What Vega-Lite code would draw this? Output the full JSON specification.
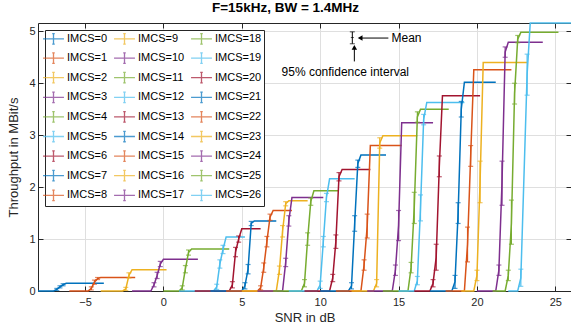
{
  "$schema": "https://vega.github.io/schema/vega-lite/v6.json",
  "width": 533,
  "height": 268,
  "autosize": {"type": "none"},
  "padding": {"left": 38, "top": 23, "right": 0, "bottom": 37},
  "background": "white",
  "title": {"text": "F=15kHz, BW = 1.4MHz", "anchor": "middle", "dx": -19, "dy": 12, "fontSize": 13.5, "fontWeight": "bold", "font": "Liberation Sans", "color": "#000000", "offset": 7, "baseline": "alphabetic"},
  "config": {
    "view": {"stroke": null},
    "font": "Liberation Sans",
    "axis": {"domainColor": "#262626", "domainWidth": 1, "tickColor": "#262626", "tickWidth": 1, "tickSize": -5, "labelColor": "#262626", "labelFont": "Liberation Sans", "labelFontSize": 11, "titleFont": "Liberation Sans", "titleFontSize": 13, "titleFontWeight": "normal", "titleColor": "#262626", "gridColor": "#dfdfdf", "gridWidth": 1},
    "legend": {"orient": "top-left", "offset": 7, "columns": 3, "columnPadding": 3, "rowPadding": 2.6, "padding": 2, "strokeColor": "#262626", "fillColor": "white", "symbolType": "M-1.9,0H1.9M0,-0.95V0.95M-0.23,-0.95H0.23M-0.23,0.95H0.23", "symbolSize": 121, "symbolStrokeWidth": 1.3, "symbolFillColor": "transparent", "labelFont": "Liberation Sans", "labelFontSize": 11, "labelColor": "#000000", "labelOffset": 7, "title": null}
  },
  "datasets": {
    "curves": [
      {"m":"IMCS=0","s":-8,"t":0},{"m":"IMCS=0","s":-7,"t":0},{"m":"IMCS=0","s":-6.8,"t":0.03,"lo":0.01,"hi":0.05},{"m":"IMCS=0","s":-6.6,"t":0.08,"lo":0.06,"hi":0.1},{"m":"IMCS=0","s":-6.4,"t":0.12,"lo":0.1,"hi":0.14},{"m":"IMCS=0","s":-6.2,"t":0.15},{"m":"IMCS=0","s":-3.8,"t":0.15},
      {"m":"IMCS=1","s":-6,"t":0},{"m":"IMCS=1","s":-4.8,"t":0},{"m":"IMCS=1","s":-4.6,"t":0.05,"lo":0.02,"hi":0.08},{"m":"IMCS=1","s":-4.4,"t":0.17,"lo":0.13,"hi":0.21},{"m":"IMCS=1","s":-4.2,"t":0.24,"lo":0.22,"hi":0.26},{"m":"IMCS=1","s":-4,"t":0.26},{"m":"IMCS=1","s":-1.8,"t":0.26},
      {"m":"IMCS=2","s":-4,"t":0},{"m":"IMCS=2","s":-2.6,"t":0},{"m":"IMCS=2","s":-2.4,"t":0.04,"lo":0.01,"hi":0.07},{"m":"IMCS=2","s":-2.2,"t":0.3,"lo":0.25,"hi":0.35},{"m":"IMCS=2","s":-2,"t":0.41},{"m":"IMCS=2","s":0.2,"t":0.41},
      {"m":"IMCS=3","s":-2,"t":0},{"m":"IMCS=3","s":-0.8,"t":0},{"m":"IMCS=3","s":-0.6,"t":0.12,"lo":0.08,"hi":0.16},{"m":"IMCS=3","s":-0.4,"t":0.3,"lo":0.24,"hi":0.36},{"m":"IMCS=3","s":-0.2,"t":0.52,"lo":0.47,"hi":0.57},{"m":"IMCS=3","s":0,"t":0.61},{"m":"IMCS=3","s":2.2,"t":0.61},
      {"m":"IMCS=4","s":0,"t":0},{"m":"IMCS=4","s":1,"t":0},{"m":"IMCS=4","s":1.2,"t":0.06,"lo":0.02,"hi":0.1},{"m":"IMCS=4","s":1.4,"t":0.42,"lo":0.35,"hi":0.49},{"m":"IMCS=4","s":1.6,"t":0.74,"lo":0.69,"hi":0.79},{"m":"IMCS=4","s":1.8,"t":0.81},{"m":"IMCS=4","s":4.2,"t":0.81},
      {"m":"IMCS=5","s":1,"t":0},{"m":"IMCS=5","s":3.2,"t":0},{"m":"IMCS=5","s":3.4,"t":0.08,"lo":0.03,"hi":0.13},{"m":"IMCS=5","s":3.6,"t":0.52,"lo":0.44,"hi":0.6},{"m":"IMCS=5","s":3.8,"t":0.8,"lo":0.72,"hi":0.88},{"m":"IMCS=5","s":4,"t":1.04},{"m":"IMCS=5","s":5.2,"t":1.04},
      {"m":"IMCS=6","s":2,"t":0},{"m":"IMCS=6","s":4.2,"t":0},{"m":"IMCS=6","s":4.4,"t":0.12,"lo":0.06,"hi":0.18},{"m":"IMCS=6","s":4.6,"t":0.75,"lo":0.66,"hi":0.84},{"m":"IMCS=6","s":4.8,"t":1.0,"lo":0.94,"hi":1.06},{"m":"IMCS=6","s":5,"t":1.2},{"m":"IMCS=6","s":6.2,"t":1.2},
      {"m":"IMCS=7","s":3,"t":0},{"m":"IMCS=7","s":5,"t":0},{"m":"IMCS=7","s":5.2,"t":0.1,"lo":0.04,"hi":0.16},{"m":"IMCS=7","s":5.4,"t":0.42,"lo":0.33,"hi":0.51},{"m":"IMCS=7","s":5.6,"t":1.3,"lo":1.26,"hi":1.34},{"m":"IMCS=7","s":5.8,"t":1.35},{"m":"IMCS=7","s":7.2,"t":1.35},
      {"m":"IMCS=8","s":4,"t":0},{"m":"IMCS=8","s":6,"t":0},{"m":"IMCS=8","s":6.2,"t":0.06,"lo":0.02,"hi":0.1},{"m":"IMCS=8","s":6.4,"t":0.45,"lo":0.36,"hi":0.54},{"m":"IMCS=8","s":6.6,"t":0.95,"lo":0.85,"hi":1.05},{"m":"IMCS=8","s":6.8,"t":1.42,"lo":1.36,"hi":1.48},{"m":"IMCS=8","s":7,"t":1.55},{"m":"IMCS=8","s":8.2,"t":1.55},
      {"m":"IMCS=9","s":5,"t":0},{"m":"IMCS=9","s":7.2,"t":0},{"m":"IMCS=9","s":7.4,"t":0.4,"lo":0.32,"hi":0.48},{"m":"IMCS=9","s":7.6,"t":1.15,"lo":1.04,"hi":1.26},{"m":"IMCS=9","s":7.8,"t":1.68,"lo":1.64,"hi":1.72},{"m":"IMCS=9","s":8,"t":1.74},{"m":"IMCS=9","s":9.2,"t":1.74},
      {"m":"IMCS=10","s":6,"t":0},{"m":"IMCS=10","s":7.6,"t":0},{"m":"IMCS=10","s":7.8,"t":0.55,"lo":0.47,"hi":0.63},{"m":"IMCS=10","s":8,"t":1.35,"lo":1.25,"hi":1.45},{"m":"IMCS=10","s":8.2,"t":1.8},{"m":"IMCS=10","s":10.2,"t":1.8},
      {"m":"IMCS=11","s":7,"t":0},{"m":"IMCS=11","s":8.8,"t":0},{"m":"IMCS=11","s":9,"t":0.15,"lo":0.08,"hi":0.22},{"m":"IMCS=11","s":9.2,"t":1.0,"lo":0.88,"hi":1.12},{"m":"IMCS=11","s":9.4,"t":1.72,"lo":1.65,"hi":1.79},{"m":"IMCS=11","s":9.6,"t":1.93},{"m":"IMCS=11","s":11.2,"t":1.93},
      {"m":"IMCS=12","s":8,"t":0},{"m":"IMCS=12","s":9.8,"t":0},{"m":"IMCS=12","s":10,"t":0.12,"lo":0.05,"hi":0.19},{"m":"IMCS=12","s":10.2,"t":0.95,"lo":0.85,"hi":1.05},{"m":"IMCS=12","s":10.4,"t":1.8,"lo":1.72,"hi":1.88},{"m":"IMCS=12","s":10.6,"t":2.16},{"m":"IMCS=12","s":12.2,"t":2.16},
      {"m":"IMCS=13","s":9,"t":0},{"m":"IMCS=13","s":10.6,"t":0},{"m":"IMCS=13","s":10.8,"t":0.25,"lo":0.18,"hi":0.32},{"m":"IMCS=13","s":11,"t":0.95,"lo":0.82,"hi":1.08},{"m":"IMCS=13","s":11.2,"t":2.2,"lo":2.12,"hi":2.28},{"m":"IMCS=13","s":11.4,"t":2.34},{"m":"IMCS=13","s":13.2,"t":2.34},
      {"m":"IMCS=14","s":10,"t":0},{"m":"IMCS=14","s":11.8,"t":0},{"m":"IMCS=14","s":12,"t":0.1,"lo":0.04,"hi":0.16},{"m":"IMCS=14","s":12.2,"t":1.3,"lo":1.15,"hi":1.45},{"m":"IMCS=14","s":12.4,"t":2.45,"lo":2.38,"hi":2.52},{"m":"IMCS=14","s":12.6,"t":2.62},{"m":"IMCS=14","s":14.2,"t":2.62},
      {"m":"IMCS=15","s":11,"t":0},{"m":"IMCS=15","s":12.6,"t":0},{"m":"IMCS=15","s":12.8,"t":0.5,"lo":0.4,"hi":0.6},{"m":"IMCS=15","s":13,"t":1.25,"lo":1.02,"hi":1.48},{"m":"IMCS=15","s":13.2,"t":2.8},{"m":"IMCS=15","s":15.2,"t":2.8},
      {"m":"IMCS=16","s":12,"t":0},{"m":"IMCS=16","s":13.4,"t":0},{"m":"IMCS=16","s":13.6,"t":0.15,"lo":0.08,"hi":0.22},{"m":"IMCS=16","s":13.8,"t":2.85,"lo":2.75,"hi":2.95},{"m":"IMCS=16","s":14,"t":2.99},{"m":"IMCS=16","s":16.2,"t":2.99},
      {"m":"IMCS=17","s":13,"t":0},{"m":"IMCS=17","s":14.6,"t":0},{"m":"IMCS=17","s":14.8,"t":0.4,"lo":0.3,"hi":0.5},{"m":"IMCS=17","s":15,"t":1.26,"lo":0.97,"hi":1.55},{"m":"IMCS=17","s":15.2,"t":3.24},{"m":"IMCS=17","s":17.2,"t":3.24},
      {"m":"IMCS=18","s":14,"t":0},{"m":"IMCS=18","s":15.6,"t":0},{"m":"IMCS=18","s":15.8,"t":0.45,"lo":0.35,"hi":0.55},{"m":"IMCS=18","s":16,"t":1.6,"lo":1.3,"hi":1.9},{"m":"IMCS=18","s":16.2,"t":3.35,"lo":3.25,"hi":3.45},{"m":"IMCS=18","s":16.4,"t":3.5},{"m":"IMCS=18","s":18.2,"t":3.5},
      {"m":"IMCS=19","s":15,"t":0},{"m":"IMCS=19","s":16,"t":0},{"m":"IMCS=19","s":16.2,"t":0.2,"lo":0.12,"hi":0.28},{"m":"IMCS=19","s":16.4,"t":1.6,"lo":1.35,"hi":1.85},{"m":"IMCS=19","s":16.6,"t":3.3,"lo":3.2,"hi":3.4},{"m":"IMCS=19","s":16.8,"t":3.63},{"m":"IMCS=19","s":19.2,"t":3.63},
      {"m":"IMCS=20","s":16,"t":0},{"m":"IMCS=20","s":17,"t":0},{"m":"IMCS=20","s":17.2,"t":0.15,"lo":0.08,"hi":0.22},{"m":"IMCS=20","s":17.4,"t":0.65,"lo":0.4,"hi":0.9},{"m":"IMCS=20","s":17.6,"t":2.4,"lo":2.2,"hi":2.6},{"m":"IMCS=20","s":17.8,"t":3.76},{"m":"IMCS=20","s":20.2,"t":3.76},
      {"m":"IMCS=21","s":17,"t":0},{"m":"IMCS=21","s":18.4,"t":0},{"m":"IMCS=21","s":18.6,"t":0.18,"lo":0.05,"hi":0.3},{"m":"IMCS=21","s":18.8,"t":1.5,"lo":1.3,"hi":1.7},{"m":"IMCS=21","s":19,"t":3.5,"lo":3.35,"hi":3.65},{"m":"IMCS=21","s":19.2,"t":4.02},{"m":"IMCS=21","s":21.2,"t":4.02},
      {"m":"IMCS=22","s":18,"t":0},{"m":"IMCS=22","s":19.2,"t":0},{"m":"IMCS=22","s":19.4,"t":0.9,"lo":0.56,"hi":1.23},{"m":"IMCS=22","s":19.6,"t":2.6,"lo":2.4,"hi":2.8},{"m":"IMCS=22","s":19.8,"t":4.26},{"m":"IMCS=22","s":22.2,"t":4.26},
      {"m":"IMCS=23","s":19,"t":0},{"m":"IMCS=23","s":19.8,"t":0},{"m":"IMCS=23","s":20,"t":0.3,"lo":0.2,"hi":0.4},{"m":"IMCS=23","s":20.2,"t":2.1,"lo":1.7,"hi":2.5},{"m":"IMCS=23","s":20.4,"t":4.4},{"m":"IMCS=23","s":23.2,"t":4.4},
      {"m":"IMCS=24","s":20,"t":0},{"m":"IMCS=24","s":21.2,"t":0},{"m":"IMCS=24","s":21.4,"t":0.4,"lo":0.3,"hi":0.5},{"m":"IMCS=24","s":21.6,"t":2.1,"lo":1.65,"hi":2.5},{"m":"IMCS=24","s":21.8,"t":4.6,"lo":4.5,"hi":4.7},{"m":"IMCS=24","s":22,"t":4.79},{"m":"IMCS=24","s":24.2,"t":4.79},
      {"m":"IMCS=25","s":21,"t":0},{"m":"IMCS=25","s":21.8,"t":0},{"m":"IMCS=25","s":22,"t":0.3,"lo":0.2,"hi":0.4},{"m":"IMCS=25","s":22.2,"t":1.3,"lo":0.9,"hi":1.75},{"m":"IMCS=25","s":22.4,"t":3.8,"lo":3.6,"hi":4.0},{"m":"IMCS=25","s":22.6,"t":4.85,"lo":4.78,"hi":4.92},{"m":"IMCS=25","s":22.8,"t":4.98},{"m":"IMCS=25","s":25.2,"t":4.98},
      {"m":"IMCS=26","s":22,"t":0},{"m":"IMCS=26","s":22.6,"t":0},{"m":"IMCS=26","s":22.8,"t":0.25,"lo":0.09,"hi":0.42},{"m":"IMCS=26","s":23.2,"t":4.17,"lo":3.77,"hi":4.56},{"m":"IMCS=26","s":23.4,"t":5.16},{"m":"IMCS=26","s":26,"t":5.16}
    ],
    "notes": [
      {"k":"mean","s":14.55,"t":4.87,"txt":"Mean"},
      {"k":"ci","s":11.6,"t":4.22,"txt":"95% confidence interval"}
    ],
    "arrows": [
      {"g":"a","s":12.55,"t":4.87},{"g":"a","s":14.35,"t":4.87},
      {"g":"b","s":12.18,"t":4.66},{"g":"b","s":12.18,"t":4.42}
    ],
    "heads": [
      {"d":"left","s":12.55,"t":4.87},
      {"d":"up","s":12.18,"t":4.69}
    ],
    "sample": [
      {"s":12.05,"t":4.88,"lo":4.76,"hi":4.99}
    ]
  },
  "layer": [
    {
      "data": {"name": "curves"},
      "mark": {"type": "line", "strokeWidth": 1.5, "clip": false},
      "encoding": {
        "x": {"field": "s", "type": "quantitative", "scale": {"domain": [-8, 26], "nice": false, "zero": false},
              "axis": {"orient": "bottom", "values": [-5, 0, 5, 10, 15, 20, 25], "title": "SNR in dB", "grid": true, "labelPadding": 10, "titlePadding": 4}},
        "y": {"field": "t", "type": "quantitative", "scale": {"domain": [0, 5.16], "nice": false, "zero": true},
              "axis": {"orient": "left", "values": [0, 1, 2, 3, 4, 5], "title": "Throughput in MBit/s", "grid": true, "labelPadding": 8, "titlePadding": 8}},
        "color": {"field": "m", "type": "nominal",
          "scale": {
            "domain": ["IMCS=0","IMCS=1","IMCS=2","IMCS=3","IMCS=4","IMCS=5","IMCS=6","IMCS=7","IMCS=8","IMCS=9","IMCS=10","IMCS=11","IMCS=12","IMCS=13","IMCS=14","IMCS=15","IMCS=16","IMCS=17","IMCS=18","IMCS=19","IMCS=20","IMCS=21","IMCS=22","IMCS=23","IMCS=24","IMCS=25","IMCS=26"],
            "range": ["#0072BD","#D95319","#EDB120","#7E2F8E","#77AC30","#4DBEEE","#A2142F","#0072BD","#D95319","#EDB120","#7E2F8E","#77AC30","#4DBEEE","#A2142F","#0072BD","#D95319","#EDB120","#7E2F8E","#77AC30","#4DBEEE","#A2142F","#0072BD","#D95319","#EDB120","#7E2F8E","#77AC30","#4DBEEE"]
          },
          "legend": {"title": null}
        }
      }
    },
    {
      "data": {"name": "curves"},
      "transform": [{"filter": "isValid(datum.lo)"}],
      "mark": {"type": "errorbar", "ticks": true, "size": 5, "thickness": 1.2},
      "encoding": {
        "x": {"field": "s", "type": "quantitative", "axis": {"orient": "top", "values": [-5, 0, 5, 10, 15, 20, 25], "labels": false, "title": null, "grid": false}},
        "y": {"field": "lo", "type": "quantitative", "axis": {"orient": "right", "values": [0, 1, 2, 3, 4, 5], "labels": false, "title": null, "grid": false}},
        "y2": {"field": "hi"},
        "color": {"field": "m", "type": "nominal"}
      }
    },
    {
      "data": {"name": "sample"},
      "mark": {"type": "errorbar", "ticks": true, "size": 5, "thickness": 1, "color": "#000000"},
      "encoding": {
        "x": {"field": "s", "type": "quantitative", "axis": null},
        "y": {"field": "lo", "type": "quantitative", "axis": null},
        "y2": {"field": "hi"}
      }
    },
    {
      "data": {"name": "sample"},
      "mark": {"type": "tick", "orient": "horizontal", "size": 3, "thickness": 1, "color": "#000000"},
      "encoding": {
        "x": {"field": "s", "type": "quantitative", "axis": null},
        "y": {"field": "t", "type": "quantitative", "axis": null}
      }
    },
    {
      "data": {"name": "arrows"},
      "mark": {"type": "line", "color": "#000000", "strokeWidth": 1},
      "encoding": {
        "x": {"field": "s", "type": "quantitative", "axis": null},
        "y": {"field": "t", "type": "quantitative", "axis": null},
        "detail": {"field": "g"}
      }
    },
    {
      "data": {"name": "heads"},
      "mark": {"type": "point", "filled": true, "color": "#000000", "size": 30, "opacity": 1},
      "encoding": {
        "x": {"field": "s", "type": "quantitative", "axis": null},
        "y": {"field": "t", "type": "quantitative", "axis": null},
        "shape": {"field": "d", "type": "nominal", "scale": {"domain": ["left", "up"], "range": ["triangle-left", "triangle-up"]}, "legend": null}
      }
    },
    {
      "data": {"name": "notes"},
      "transform": [{"filter": "datum.k == 'mean'"}],
      "mark": {"type": "text", "align": "left", "baseline": "middle", "fontSize": 12, "font": "Liberation Sans", "color": "#000000"},
      "encoding": {
        "x": {"field": "s", "type": "quantitative", "axis": null},
        "y": {"field": "t", "type": "quantitative", "axis": null},
        "text": {"field": "txt"}
      }
    },
    {
      "data": {"name": "notes"},
      "transform": [{"filter": "datum.k == 'ci'"}],
      "mark": {"type": "text", "align": "center", "baseline": "middle", "fontSize": 12, "font": "Liberation Sans", "color": "#000000"},
      "encoding": {
        "x": {"field": "s", "type": "quantitative", "axis": null},
        "y": {"field": "t", "type": "quantitative", "axis": null},
        "text": {"field": "txt"}
      }
    }
  ],
  "resolve": {"axis": {"x": "independent", "y": "independent"}}
}
